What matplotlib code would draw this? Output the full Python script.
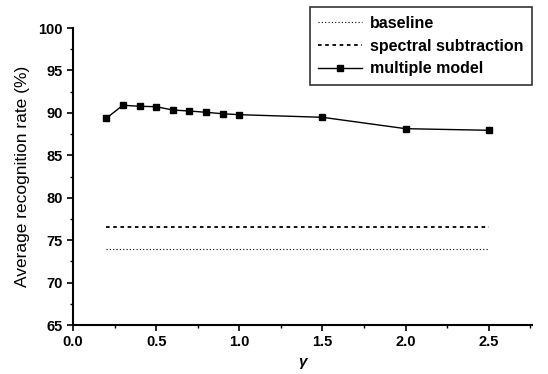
import matplotlib
matplotlib.use("Agg")
import matplotlib.pyplot as plt
from matplotlib.ticker import MultipleLocator

plt.rcParams['font.family'] = ['Liberation Sans', 'DejaVu Sans']

gamma = [0.2, 0.3, 0.4, 0.5, 0.6, 0.7, 0.8, 0.9, 1.0, 1.5, 2.0, 2.5]
multiple_model = [89.36, 90.9, 90.78, 90.73, 90.34, 90.22, 90.07, 89.9, 89.79, 89.48, 88.14, 87.95]
baseline_x = [0.2, 2.5]
baseline = [73.97, 73.97]
spectral_x = [0.2, 2.5]
spectral = [76.6, 76.6]

fig = plt.figure(figsize=(5.48, 3.74), dpi=100)
ax = fig.add_axes([0.1332, 0.131, 0.8376, 0.794])

l1, = ax.plot(baseline_x, baseline, color='black', lw=0.8, linestyle=(0, (1, 2)), label='baseline')
l2, = ax.plot(spectral_x, spectral, color='black', lw=1.3, linestyle=(0, (2, 2)), label='spectral subtraction')
l3, = ax.plot(gamma, multiple_model, color='black', lw=1.0, marker='s', markersize=5, label='multiple model')

ax.set_xlim(0.0, 2.76)
ax.set_ylim(65, 100)
ax.xaxis.set_major_locator(MultipleLocator(0.5))
ax.xaxis.set_minor_locator(MultipleLocator(0.25))
ax.yaxis.set_major_locator(MultipleLocator(5))
ax.yaxis.set_minor_locator(MultipleLocator(2.5))
ax.tick_params(which='major', direction='out', length=4, width=1.2, labelsize=10.5)
ax.tick_params(which='minor', direction='out', length=2, width=1)
ax.spines['top'].set_visible(False)
ax.spines['right'].set_visible(False)
ax.spines['left'].set_linewidth(1.5)
ax.spines['bottom'].set_linewidth(1.5)
for lbl in ax.get_xticklabels() + ax.get_yticklabels():
    lbl.set_fontweight('bold')

ax.set_ylabel('Average recognition rate (%)', fontsize=12.5, labelpad=6)
ax.set_xlabel('γ', fontsize=11, fontstyle='italic', fontweight='bold')

leg = fig.legend(handles=[l1, l2, l3], loc='upper left', bbox_to_anchor=(0.565, 0.982),
                 frameon=True, fancybox=False, edgecolor='black',
                 handlelength=2.7, handletextpad=0.5, borderaxespad=0, borderpad=0.55,
                 labelspacing=0.5, prop={'weight': 'bold', 'size': 11.5})
leg.get_frame().set_linewidth(1.2)

fig.savefig('out.png', dpi=100)
